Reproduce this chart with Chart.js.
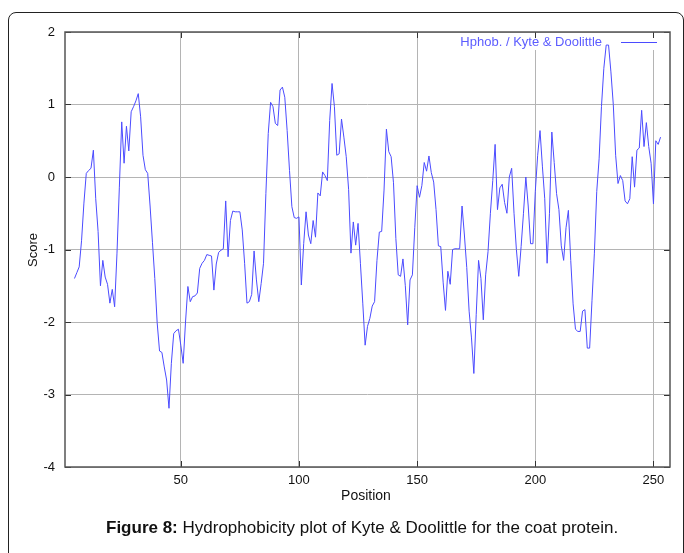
<!DOCTYPE html>
<html>
<head>
<meta charset="utf-8">
<script src="https://cdn.jsdelivr.net/npm/chart.js@4.4.1/dist/chart.umd.min.js"></script>
<style>
    html, body { margin: 0; padding: 0; background: #fff; overflow: hidden; }
    #box {
        position: absolute; left: 8px; top: 12px; width: 674px; height: 640px;
        border: 1px solid #222; border-radius: 8px;
    }
    #chart { position: absolute; left: 0; top: 0; }
    #caption {
        position: absolute; left: 106px; top: 518px; white-space: nowrap;
        font: 17px "Liberation Sans", Arial, sans-serif; color: #111; line-height: 19px;
    }
</style>
</head>
<body>
<div id="box"></div>
<canvas id="chart" width="684" height="553"></canvas>
<div id="caption"><b>Figure 8:</b> Hydrophobicity plot of Kyte &amp; Doolittle for the coat protein.</div>
<script>
// Kyte & Doolittle scores, first value is at position 5 (window of 9)
var firstPosition = 5;
var scores = [
    -1.40, -1.32, -1.24, -0.88, -0.36, 0.05, 0.09, 0.12, 0.37, -0.30,
    -0.75, -1.50, -1.15, -1.38, -1.48, -1.74, -1.55, -1.79, -1.05, -0.14,
    0.76, 0.19, 0.70, 0.36, 0.90, 0.97, 1.05, 1.15, 0.83, 0.30,
    0.10, 0.05, -0.40, -0.90, -1.40, -2.01, -2.40, -2.42, -2.62, -2.80,
    -3.19, -2.57, -2.16, -2.12, -2.10, -2.32, -2.57, -2.00, -1.51, -1.72,
    -1.65, -1.64, -1.60, -1.26, -1.19, -1.15, -1.07, -1.08, -1.09, -1.56,
    -1.20, -1.04, -1.01, -0.99, -0.33, -1.10, -0.60, -0.47, -0.48, -0.48,
    -0.48, -0.73, -1.19, -1.74, -1.72, -1.62, -1.02, -1.42, -1.72, -1.47,
    -1.19, -0.23, 0.60, 1.03, 0.97, 0.74, 0.71, 1.20, 1.24, 1.10,
    0.64, 0.09, -0.41, -0.56, -0.57, -0.55, -1.49, -0.92, -0.48, -0.80,
    -0.92, -0.60, -0.83, -0.22, -0.26, 0.07, 0.02, -0.05, 0.78, 1.29,
    0.97, 0.30, 0.32, 0.80, 0.55, 0.28, -0.17, -1.05, -0.62, -0.94,
    -0.64, -1.19, -1.74, -2.32, -2.06, -1.95, -1.78, -1.72, -1.15, -0.76,
    -0.75, -0.18, 0.66, 0.35, 0.28, -0.08, -0.85, -1.35, -1.37, -1.13,
    -1.50, -2.04, -1.42, -1.35, -0.70, -0.12, -0.28, -0.12, 0.20, 0.08,
    0.29, 0.06, -0.07, -0.45, -0.95, -0.96, -1.45, -1.84, -1.30, -1.48,
    -1.00, -0.99, -0.99, -0.99, -0.40, -0.80, -1.25, -1.85, -2.22, -2.71,
    -1.90, -1.15, -1.40, -1.97, -1.35, -1.03, -0.50, -0.05, 0.45, -0.45,
    -0.15, -0.10, -0.35, -0.50, 0.00, 0.12, -0.50, -1.00, -1.37, -0.96,
    -0.50, 0.00, -0.40, -0.92, -0.92, -0.20, 0.30, 0.64, 0.15, -0.30,
    -1.19, -0.50, 0.62, 0.20, -0.23, -0.45, -0.95, -1.15, -0.70, -0.46,
    -1.15, -1.75, -2.10, -2.13, -2.13, -1.85, -1.83, -2.36, -2.36, -1.70,
    -1.05, -0.20, 0.25, 0.97, 1.50, 1.82, 1.82, 1.45, 1.00, 0.30,
    -0.09, 0.02, -0.05, -0.33, -0.37, -0.30, 0.28, -0.14, 0.37, 0.40,
    0.92, 0.42, 0.75, 0.42, 0.19, -0.37, 0.50, 0.45, 0.55
];
var xTicks = [50, 100, 150, 200, 250];
var yTicks = [-4, -3, -2, -1, 0, 1, 2];
var xRange = [1, 257];
var seriesLabel = 'Hphob. / Kyte & Doolittle';

var FONT = '"Liberation Sans", Arial, sans-serif';
var LINE_COLOR = '#4b4bff';

var points = scores.map(function(v, i) { return { x: firstPosition + i, y: v }; });

// frame, inward ticks, key and axis titles, drawn the gnuplot way
var gnuplotFrame = {
    id: 'gnuplotFrame',
    beforeDatasetsDraw: function(chart) {
        var c = chart.ctx;
        c.save();
        c.fillStyle = '#fff';
        c.fillRect(455, 35, 206, 15);
        c.restore();
    },
    afterDatasetsDraw: function(chart) {
        var c = chart.ctx, a = chart.chartArea;
        var xs = chart.scales.x, ys = chart.scales.y;
        c.save();
        c.strokeStyle = '#333';
        c.lineWidth = 1;
        c.beginPath();
        xTicks.forEach(function(t) {
            var px = Math.round(xs.getPixelForValue(t)) + 0.5;
            c.moveTo(px, a.top); c.lineTo(px, a.top + 6);
            c.moveTo(px, a.bottom); c.lineTo(px, a.bottom - 6);
        });
        yTicks.forEach(function(t) {
            var py = Math.round(ys.getPixelForValue(t)) + 0.5;
            c.moveTo(a.left, py); c.lineTo(a.left + 6, py);
            c.moveTo(a.right, py); c.lineTo(a.right - 6, py);
        });
        c.stroke();
        c.strokeStyle = '#555';
        c.lineWidth = 1.5;
        c.strokeRect(a.left, a.top, a.right - a.left, a.bottom - a.top);

        // key
        c.font = '13px ' + FONT;
        c.fillStyle = '#5c5cff';
        c.textAlign = 'right';
        c.textBaseline = 'middle';
        c.fillText(seriesLabel, 602, 42);
        c.strokeStyle = LINE_COLOR;
        c.lineWidth = 1;
        c.beginPath();
        c.moveTo(621, 42.5); c.lineTo(657, 42.5);
        c.stroke();

        // axis titles
        c.fillStyle = '#111';
        c.textAlign = 'center';
        c.font = '14px ' + FONT;
        c.fillText('Position', 366, 496);
        c.translate(33, 250);
        c.rotate(-Math.PI / 2);
        c.font = '13px ' + FONT;
        c.fillText('Score', 0, 0);
        c.restore();
    }
};

var chart = new Chart(document.getElementById('chart'), {
    type: 'line',
    data: {
        datasets: [{
            label: seriesLabel,
            data: points,
            borderColor: LINE_COLOR,
            borderWidth: 1,
            pointRadius: 0,
            tension: 0,
            fill: false
        }]
    },
    options: {
        responsive: false,
        animation: false,
        devicePixelRatio: 1,
        layout: { padding: { top: 32, right: 14, left: 0, bottom: 0 } },
        plugins: { legend: { display: false }, tooltip: { enabled: false } },
        scales: {
            x: {
                type: 'linear',
                min: xRange[0],
                max: xRange[1],
                afterFit: function(s) { s.height = 86; },
                afterBuildTicks: function(s) {
                    s.ticks = xTicks.map(function(v) { return { value: v }; });
                },
                grid: { color: '#b4b4b4', lineWidth: 1, drawTicks: false },
                border: { display: false },
                ticks: { padding: 6, color: '#111', font: { family: FONT, size: 13 }, maxRotation: 0 }
            },
            y: {
                min: yTicks[0],
                max: yTicks[yTicks.length - 1],
                afterFit: function(s) { s.width = 65; },
                afterBuildTicks: function(s) {
                    s.ticks = yTicks.map(function(v) { return { value: v }; });
                },
                grid: { color: '#b4b4b4', lineWidth: 1, drawTicks: false },
                border: { display: false },
                ticks: { padding: 10, color: '#111', font: { family: FONT, size: 13 } }
            }
        }
    },
    plugins: [gnuplotFrame]
});
</script>
</body>
</html>
